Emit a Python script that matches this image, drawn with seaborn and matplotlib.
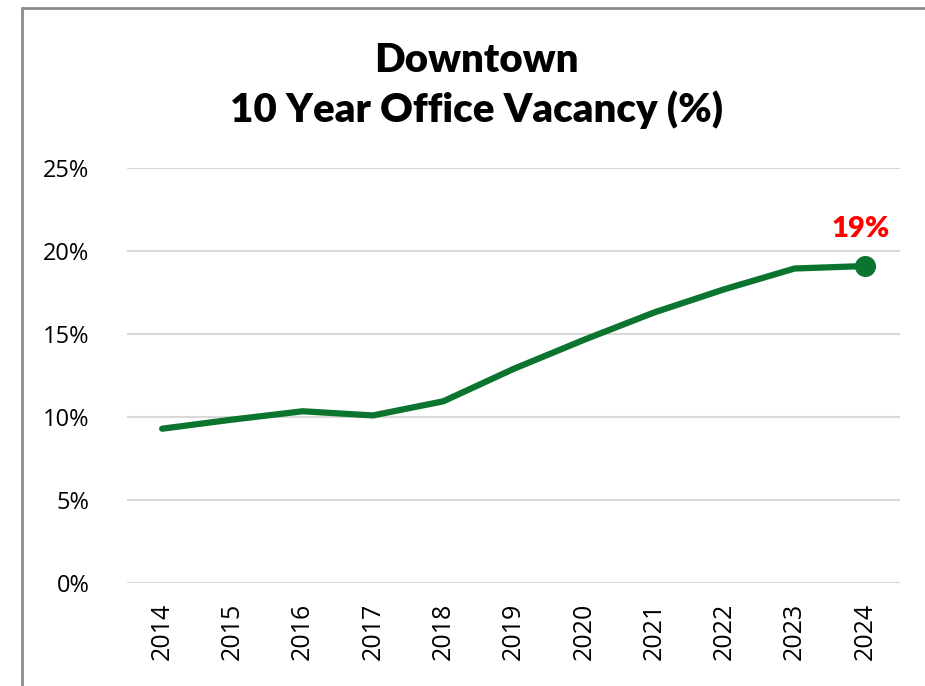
import matplotlib
matplotlib.use("Agg")
import matplotlib.pyplot as plt
import seaborn as sns
import pandas as pd
from matplotlib.lines import Line2D

# values
years = ["2014", "2015", "2016", "2017", "2018", "2019", "2020", "2021", "2022", "2023", "2024"]
vacancy = [9.3, 9.85, 10.35, 10.1, 10.95, 12.9, 14.65, 16.3, 17.7, 18.95, 19.1]
y_ticks = [0, 5, 10, 15, 20, 25]
last_label = "19%"

GREEN = "#0b7530"
RED = "#ff0000"


def main():
    df = pd.DataFrame({"year": years, "vacancy": vacancy})

    sns.set_theme(style="white")
    plt.rcParams["font.family"] = ["Lato", "DejaVu Sans"]

    fig = plt.figure(figsize=(9.25, 6.86), dpi=100)
    ax = fig.add_axes([0.1373, 0.150, 0.8357, 0.605])

    sns.lineplot(data=df, x="year", y="vacancy", ax=ax, color=GREEN,
                 linewidth=4.5, sort=False)

    # endpoint marker + label
    last = df.iloc[-1]
    ax.scatter([last["year"]], [last["vacancy"]], s=200, color=GREEN,
               zorder=5, clip_on=False)
    ax.annotate(last_label, xy=(len(years) - 1, last["vacancy"]),
                xytext=(-3, 17), textcoords="offset points", ha="center",
                va="bottom", color=RED, fontsize=21, fontweight="heavy",
                annotation_clip=False)

    ax.set_xlim(-0.5, len(years) - 0.5)
    ax.set_ylim(0, 25)
    ax.set_yticks(y_ticks)
    ax.set_yticklabels([f"{t}%" for t in y_ticks], fontsize=17,
                       family=["Open Sans", "DejaVu Sans"])
    for lbl in ax.get_xticklabels():
        lbl.set_family(["Open Sans", "DejaVu Sans"])
    ax.tick_params(axis="x", labelsize=18, rotation=90, pad=8,
                   labelcolor="black")
    ax.tick_params(axis="y", pad=21, labelcolor="black")
    ax.grid(axis="y", color="#d9d9d9", linewidth=1.5)
    ax.grid(axis="x", visible=False)
    for s in ax.spines.values():
        s.set_visible(False)
    ax.set_xlabel("")
    ax.set_ylabel("")

    fig.text(0.515, 0.912, "Downtown", ha="center", va="center",
             fontsize=29, fontweight="heavy", color="black")
    fig.text(0.515, 0.840, "10 Year Office Vacancy (%)", ha="center",
             va="center", fontsize=29, fontweight="heavy", color="black")

    # grey frame (top and left edges visible)
    fig.add_artist(Line2D([22 / 925, 1.0], [1 - 8 / 686, 1 - 8 / 686],
                          transform=fig.transFigure, color="#8c8c8c", linewidth=2))
    fig.add_artist(Line2D([22 / 925, 22 / 925], [0.0, 1 - 8 / 686],
                          transform=fig.transFigure, color="#8c8c8c", linewidth=2))

    fig.savefig("out.png", dpi=100)
    plt.close(fig)


if __name__ == "__main__":
    main()
